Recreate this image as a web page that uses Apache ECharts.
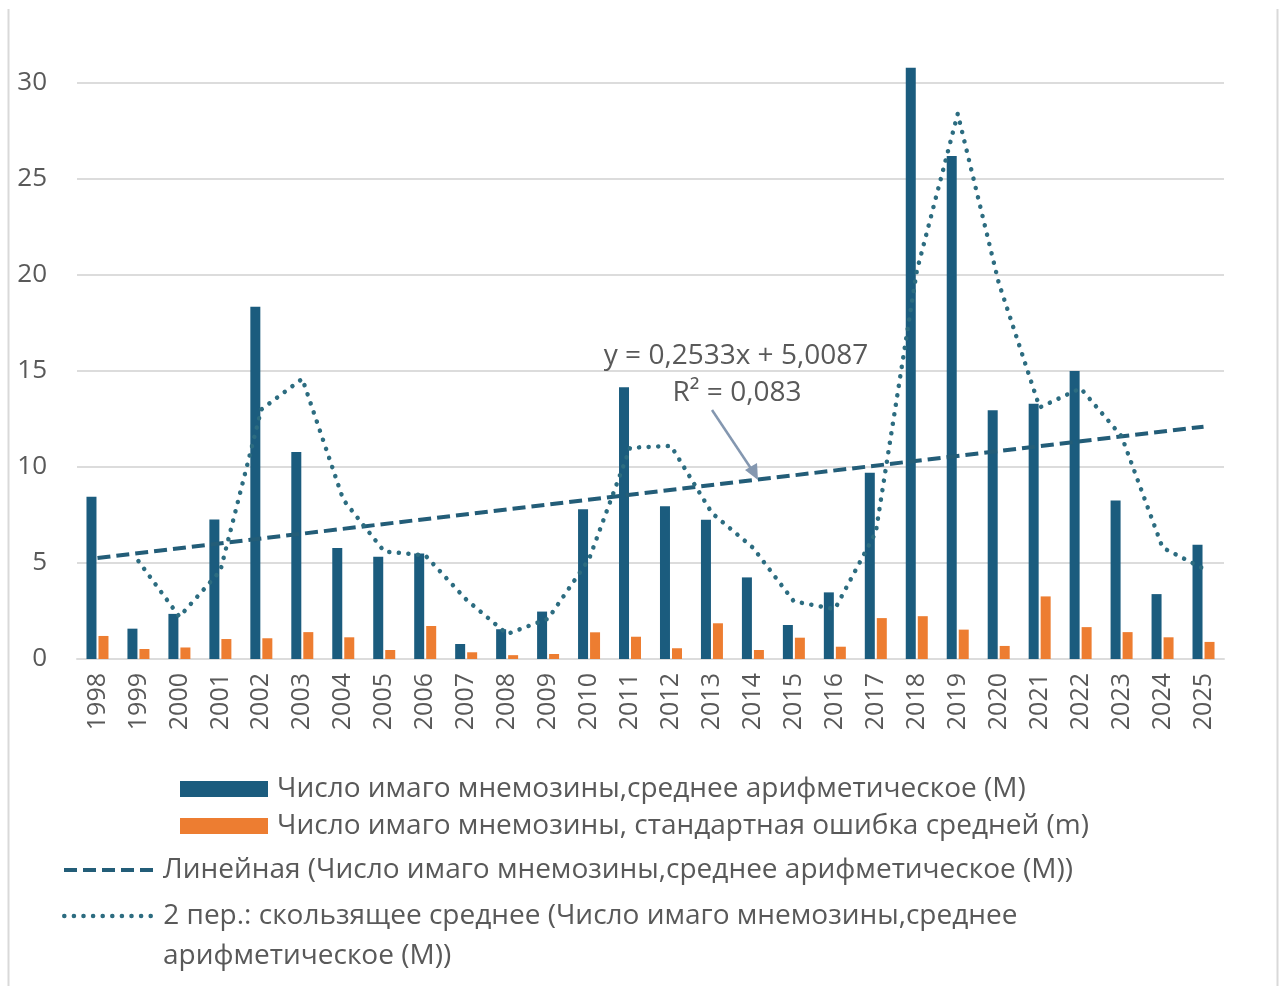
<!DOCTYPE html>
<html>
<head>
<meta charset="utf-8">
<script src="https://cdn.jsdelivr.net/npm/echarts@6/dist/echarts.min.js"></script>
<style>
html,body{margin:0;padding:0;background:#fff;}
#chart{width:1286px;height:986px;}
</style>
</head>
<body>
<div id="chart"></div>
<script>
// ---- data ----
const years = ['1998','1999','2000','2001','2002','2003','2004','2005','2006','2007','2008','2009','2010','2011','2012','2013','2014','2015','2016','2017','2018','2019','2020','2021','2022','2023','2024','2025'];
const meanM = [8.45,1.58,2.35,7.27,18.35,10.78,5.78,5.33,5.5,0.78,1.55,2.47,7.8,14.15,7.95,7.25,4.25,1.77,3.47,9.7,30.8,26.2,12.95,13.3,15.0,8.25,3.38,5.95];
const errM = [1.2,0.52,0.6,1.04,1.08,1.4,1.13,0.47,1.72,0.35,0.2,0.26,1.39,1.16,0.56,1.86,0.47,1.11,0.64,2.13,2.23,1.53,0.68,3.26,1.66,1.4,1.13,0.89];
const movingAvg = [null,5.1,2.2,4.6,13.0,14.6,8.3,5.6,5.4,3.1,1.3,2.1,5.2,11.0,11.1,7.6,5.8,3.0,2.6,6.6,20.2,28.4,19.6,13.1,14.1,11.6,5.8,4.7];
const trendEnds = [5.26, 12.10];
const yTicks = [0,5,10,15,20,25,30];

const nameM = 'Число имаго мнемозины,среднее арифметическое (М)';
const nameErr = 'Число имаго мнемозины, стандартная ошибка средней (m)';
const nameTrend = 'Линейная (Число имаго мнемозины,среднее арифметическое (М))';
const nameMA = '2 пер.: скользящее среднее (Число имаго мнемозины,среднее арифметическое (М))';
const maLine1 = '2 пер.: скользящее среднее (Число имаго мнемозины,среднее';
const maLine2 = 'арифметическое (М))';
const eqText = 'y = 0,2533x + 5,0087';
const r2Text = 'R² = 0,083';

const FONT = '"Open Sans", sans-serif';
const GREY = '#595959';
const BLUE = '#1b5c7e';
const ORANGE = '#ed7d31';
const TREND = '#235d78';
const MA = '#2c6c80';

const chart = echarts.init(document.getElementById('chart'));
const legendText = {fontFamily: FONT, fontSize: 28, color: GREY, lineHeight: 32, padding:[0,0,0,4]};
const option = {
  backgroundColor: '#fff',
  animation: false,
  grid: {left: 77, right: 62, top: -13, bottom: 327, containLabel: false, outerBoundsMode: 'none'},
  xAxis: {
    type: 'category',
    data: years,
    axisLine: {show: true, lineStyle: {color: '#dcdcdc', width: 2}},
    axisTick: {show: false},
    axisLabel: {rotate: 90, margin: 14, fontFamily: FONT, fontSize: 25, color: GREY, interval: 0}
  },
  yAxis: {
    type: 'value',
    min: yTicks[0],
    max: 35,
    interval: 5,
    axisLine: {show: false},
    axisTick: {show: false},
    splitLine: {lineStyle: {color: '#dcdcdc', width: 2}},
    axisLabel: {margin: 30, fontFamily: FONT, fontSize: 26, color: GREY}
  },
  legend: [
    {data: [nameM], left: 180, top: 773, icon: 'rect', itemWidth: 88, itemHeight: 16, selectedMode: false, textStyle: legendText, padding: 0},
    {data: [nameErr], left: 180, top: 810, icon: 'rect', itemWidth: 88, itemHeight: 16, selectedMode: false, textStyle: legendText, padding: 0},
    {data: [nameTrend], left: 62, top: 854, itemWidth: 90, itemHeight: 16, selectedMode: false, textStyle: legendText, padding: 0,
     lineStyle: {width: 4}, itemStyle: {opacity: 0, color: 'rgba(0,0,0,0)', borderWidth: 0}},
    {data: [nameMA], left: 62, top: 900, itemWidth: 90, itemHeight: 16, selectedMode: false, textStyle: legendText, padding: 0,
     lineStyle: {width: 4.5}, itemStyle: {opacity: 0, color: 'rgba(0,0,0,0)', borderWidth: 0},
     formatter: function(){ return maLine1; }}
  ],
  series: [
    {name: nameM, type: 'bar', data: meanM, barWidth: 10, barGap: '20%', itemStyle: {color: BLUE}, z: 2},
    {name: nameErr, type: 'bar', data: errM, barWidth: 10, barGap: '20%', itemStyle: {color: ORANGE}, z: 2},
    {name: nameTrend, type: 'line', symbol: 'none', z: 4, itemStyle: {color: TREND},
     data: [[years[0], trendEnds[0]], [years[years.length-1], trendEnds[1]]],
     lineStyle: {color: TREND, width: 4, type: [13, 6]}},
    {name: nameMA, type: 'line', symbol: 'none', z: 5, connectNulls: false, itemStyle: {color: MA},
     data: movingAvg,
     lineStyle: {color: MA, width: 4.5, type: [0.1, 9.5], cap: 'round'}}
  ],
  graphic: [
    {type: 'line', shape: {x1: 8.5, y1: 9, x2: 8.5, y2: 986}, style: {stroke: '#d9d9d9', lineWidth: 2}, silent: true},
    {type: 'line', shape: {x1: 1277.5, y1: 9, x2: 1277.5, y2: 986}, style: {stroke: '#d9d9d9', lineWidth: 2}, silent: true},
    {type: 'text', x: 736, y: 356, style: {text: eqText, font: '28px "Open Sans", sans-serif', fill: GREY, align: 'center', verticalAlign: 'middle'}, z: 10},
    {type: 'text', x: 737, y: 393, style: {text: r2Text, font: '28px "Open Sans", sans-serif', fill: GREY, align: 'center', verticalAlign: 'middle'}, z: 10},
    {type: 'line', shape: {x1: 712, y1: 410, x2: 754, y2: 473}, style: {stroke: '#8497b0', lineWidth: 2.5}, z: 10},
    {type: 'polygon', shape: {points: [[758, 480], [745, 470], [757, 463]]}, style: {fill: '#8497b0'}, z: 10},
    {type: 'text', x: 163, y: 956, style: {text: maLine2, font: '28px "Open Sans", sans-serif', fill: GREY, verticalAlign: 'middle'}, z: 10}
  ]
};
chart.setOption(option);
</script>
</body>
</html>
